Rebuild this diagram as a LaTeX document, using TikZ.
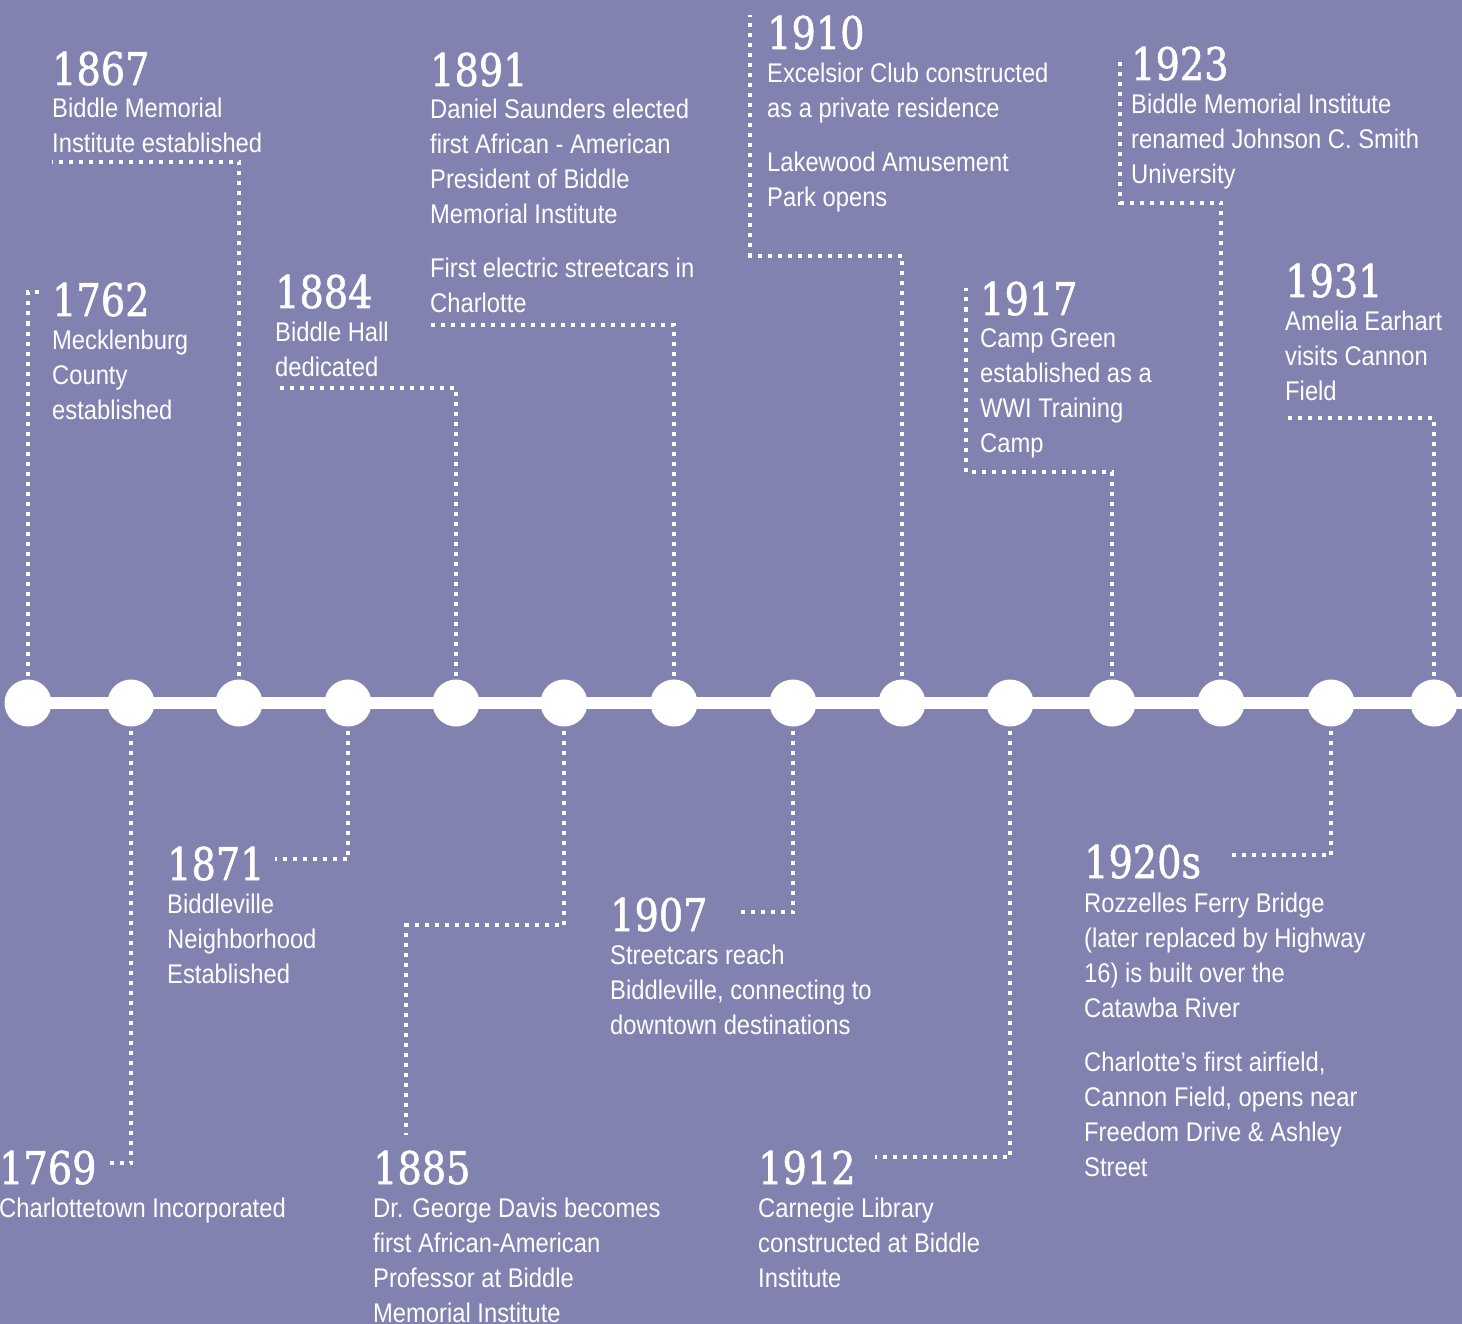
\documentclass[tikz,border=0pt]{standalone}
\usepackage{fontspec}
\setmainfont{Liberation Sans}[FakeStretch=0.88]
\newfontfamily\yearfont{DejaVu Serif}[FakeStretch=0.85, FakeBold=1.2]

\definecolor{bgpurple}{RGB}{130,130,177}

\tikzset{
    stopdot/.style={circle, fill=white, inner sep=0pt, minimum size=47pt, outer sep=4pt},
    yearlabel/.style={anchor=base west, inner sep=0pt, text=white, font=\yearfont\fontsize{45}{45}\selectfont},
    eventtext/.style={anchor=north west, inner sep=0pt, text=white, align=left,
        font=\fontsize{27}{35}\selectfont, execute at begin node=\strut},
    dotline/.style={white, line width=4pt, dash pattern=on 4pt off 6pt},
}

\begin{document}
\begin{tikzpicture}[x=1pt, y=-1pt]
    \fill[bgpurple] (0,0) rectangle (1462,1324);
    \useasboundingbox (0,0) rectangle (1462,1324);

    % the line with its stops
    \foreach \x [count=\i] in {28,131,239,348,456,564,674,793,902,1010,1112,1221,1331,1434}
        \node[stopdot] (c\i) at (\x,703) {};
    \coordinate (lineend) at (1462,703);
    \draw[white, line width=12pt] (c1.center) -- (lineend);

    % above the line
    \begin{scope}[shift={(52,316)}]
        \node[yearlabel] (y1762) at (0,0) {1762};
        \node[eventtext] (t1762) at (0,13.5) {Mecklenburg\\County\\established};
    \end{scope}
    \begin{scope}[shift={(52,85)}]
        \node[yearlabel] (y1867) at (0,0) {1867};
        \node[eventtext] (t1867) at (0,12.5) {Biddle Memorial\\Institute established};
    \end{scope}
    \begin{scope}[shift={(275,308)}]
        \node[yearlabel] (y1884) at (0,0) {1884};
        \node[eventtext] (t1884) at (0,13.5) {Biddle Hall\\dedicated};
    \end{scope}
    \begin{scope}[shift={(430,86)}]
        \node[yearlabel] (y1891) at (0,0) {1891};
        \node[eventtext] (t1891) at (0,12.5) {Daniel Saunders elected\\first African - American\\President of Biddle\\Memorial Institute\\[19pt]First electric streetcars in\\Charlotte};
    \end{scope}
    \begin{scope}[shift={(767,49)}]
        \node[yearlabel] (y1910) at (0,0) {1910};
        \node[eventtext] (t1910) at (0,13.5) {Excelsior Club constructed\\as a private residence\\[19pt]Lakewood Amusement\\Park opens};
    \end{scope}
    \begin{scope}[shift={(980,315)}]
        \node[yearlabel] (y1917) at (0,0) {1917};
        \node[eventtext] (t1917) at (0,13.5) {Camp Green\\established as a\\WWI Training\\Camp};
    \end{scope}
    \begin{scope}[shift={(1131,80)}]
        \node[yearlabel] (y1923) at (0,0) {1923};
        \node[eventtext] (t1923) at (0,13.5) {Biddle Memorial Institute\\renamed Johnson C. Smith\\University};
    \end{scope}
    \begin{scope}[shift={(1285,297)}]
        \node[yearlabel] (y1931) at (0,0) {1931};
        \node[eventtext] (t1931) at (0,13.5) {Amelia Earhart\\visits Cannon\\Field};
    \end{scope}

    % below the line
    \begin{scope}[shift={(-1,1184)}]
        \node[yearlabel] (y1769) at (0,0) {1769};
        \node[eventtext] (t1769) at (0,8.5) {Charlottetown Incorporated};
    \end{scope}
    \begin{scope}[shift={(167,880)}]
        \node[yearlabel] (y1871) at (0,0) {1871};
        \node[eventtext] (t1871) at (0,13.5) {Biddleville\\Neighborhood\\Established};
    \end{scope}
    \begin{scope}[shift={(373,1184)}]
        \node[yearlabel] (y1885) at (0,0) {1885};
        \node[eventtext] (t1885) at (0,13.5) {Dr. George Davis becomes\\first African-American\\Professor at Biddle\\Memorial Institute};
    \end{scope}
    \begin{scope}[shift={(610,931)}]
        \node[yearlabel] (y1907) at (0,0) {1907};
        \node[eventtext] (t1907) at (0,13.5) {Streetcars reach\\Biddleville, connecting to\\downtown destinations};
    \end{scope}
    \begin{scope}[shift={(758,1184)}]
        \node[yearlabel] (y1912) at (0,0) {1912};
        \node[eventtext] (t1912) at (0,13.5) {Carnegie Library\\constructed at Biddle\\Institute};
    \end{scope}
    \begin{scope}[shift={(1084,878)}]
        \node[yearlabel] (y1920s) at (0,0) {1920s};
        \node[eventtext] (t1920s) at (0,14.5) {Rozzelles Ferry Bridge\\(later replaced by Highway\\16) is built over the\\Catawba River\\[19pt]Charlotte’s first airfield,\\Cannon Field, opens near\\Freedom Drive \& Ashley\\Street};
    \end{scope}

    % connector ends
    \coordinate (e1762) at (40,292);
    \coordinate (e1867) at (52,162);
    \coordinate (e1884) at (274,388);
    \coordinate (e1891) at (430,325);
    \coordinate (k1910) at (750,256);
    \coordinate (e1910) at (750,15);
    \coordinate (k1917) at (966,472);
    \coordinate (e1917) at (966,288);
    \coordinate (k1923) at (1120,203);
    \coordinate (e1923) at (1120,62);
    \coordinate (e1931) at (1284,418);
    \coordinate (e1769) at (108,1163);
    \coordinate (e1871) at (275,859);
    \coordinate (k1885) at (406,925);
    \coordinate (e1885) at (406,1135);
    \coordinate (e1907) at (735,912);
    \coordinate (e1912) at (875,1157);
    \coordinate (e1920s) at (1228,855);

    \draw[dotline] (c1.north) |- (e1762);
    \draw[dotline] (c3.north) |- (e1867);
    \draw[dotline] (c5.north) |- (e1884);
    \draw[dotline] (c7.north) |- (e1891);
    \draw[dotline] (c9.north) |- (k1910) -- (e1910);
    \draw[dotline] (c11.north) |- (k1917) -- (e1917);
    \draw[dotline] (c12.north) |- (k1923) -- (e1923);
    \draw[dotline] (c14.north) |- (e1931);
    \draw[dotline] (c2.south) |- (e1769);
    \draw[dotline] (c4.south) |- (e1871);
    \draw[dotline] (c6.south) |- (k1885) -- (e1885);
    \draw[dotline] (c8.south) |- (e1907);
    \draw[dotline] (c10.south) |- (e1912);
    \draw[dotline] (c13.south) |- (e1920s);
\end{tikzpicture}
\end{document}
